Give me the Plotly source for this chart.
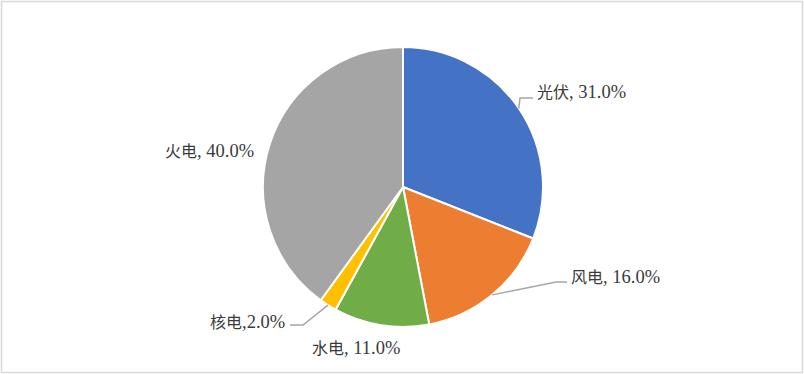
import math
import plotly.graph_objects as go

# ---- data ----
categories = ["光伏", "风电", "水电", "核电", "火电"]
shares = [31.0, 16.0, 11.0, 2.0, 40.0]
separators = [", ", ", ", ", ", ",", ", "]

# ---- style ----
colors = ["#4472C4", "#ED7D31", "#70AD47", "#FFC000", "#A5A5A5"]
W, H = 804, 374
pie_top, pie_bottom = 47, 327
cx = 403
# label anchor positions (pixels) and anchoring, plus whether a leader line is drawn
label_pos = [(535, 92, "left"), (569, 277, "left"), (356, 348, "center"), (287, 322, "right"), (210, 151, "center")]
leader = [True, True, False, True, False]
elbow_dx = [-13, -11, 0, 13, 0]
line_dy = [6, 5, 0, 3, 0]
text_color = "#3A3A3A"
font_family = "Liberation Serif, Noto Sans CJK SC, serif"

fig = go.Figure(go.Pie(
    labels=categories, values=shares, sort=False, direction="clockwise", rotation=0,
    marker=dict(colors=colors, line=dict(color="white", width=2)),
    textinfo="none", hoverinfo="skip", showlegend=False,
    domain=dict(x=[(2 * cx - W) / W, 1], y=[(H - pie_bottom) / H, (H - pie_top) / H]),
))

R = (pie_bottom - pie_top) / 2
cy = (pie_bottom + pie_top) / 2
total = sum(shares)
shapes = []
annotations = []
cum = 0.0
for i, v in enumerate(shares):
    mid = (cum + v / 2) / total * 2 * math.pi
    cum += v
    ex = cx + R * math.sin(mid)
    ey = cy - R * math.cos(mid)
    lx, ly, anchor = label_pos[i]
    if leader[i]:
        yline = ly + line_dy[i]
        if anchor == "left":
            endx = lx - 2
        else:
            endx = lx + 3
        elx = endx + elbow_dx[i]
        path = f"M {ex/W} {1-ey/H} L {elx/W} {1-yline/H} L {endx/W} {1-yline/H}"
        shapes.append(dict(type="path", xref="paper", yref="paper", path=path,
                           line=dict(color="#A6A6A6", width=1.5)))
    text = f"<span style='font-size:16px'>{categories[i]}</span>{separators[i]}{v:.1f}%"
    annotations.append(dict(x=lx / W, y=1 - ly / H, xref="paper", yref="paper",
                            text=text, showarrow=False, xanchor=anchor, yanchor="middle",
                            font=dict(family=font_family, size=18.5, color=text_color)))

shapes.append(dict(type="rect", xref="paper", yref="paper", x0=1.5 / W, y0=1.5 / H,
                   x1=1 - 1.5 / W, y1=1 - 1.5 / H, line=dict(color="#D9D9D9", width=1.5)))

fig.update_layout(width=W, height=H, margin=dict(l=0, r=0, t=0, b=0),
                  paper_bgcolor="white", plot_bgcolor="white",
                  shapes=shapes, annotations=annotations)
fig.write_html("out.html")
